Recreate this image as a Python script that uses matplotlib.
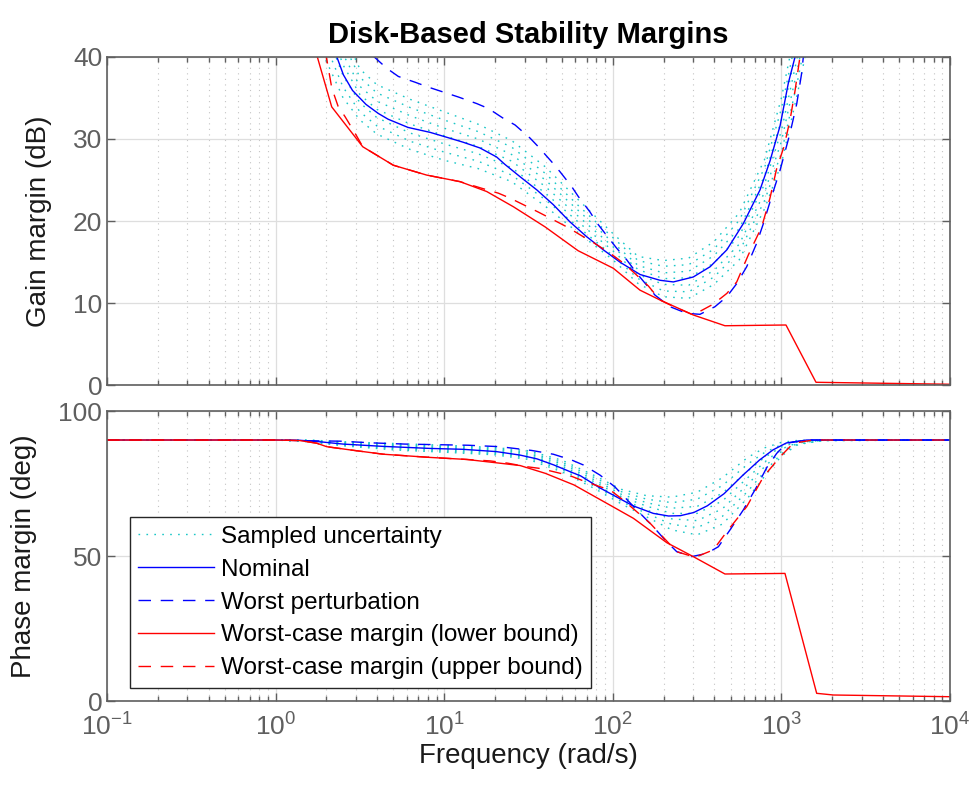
import numpy as np
import matplotlib.pyplot as plt

plt.rcParams['font.family'] = ['Liberation Sans', 'DejaVu Sans']
plt.rcParams['mathtext.fontset'] = 'custom'
plt.rcParams['mathtext.rm'] = 'Liberation Sans'
plt.rcParams['mathtext.it'] = 'Liberation Sans:italic'
plt.rcParams['mathtext.bf'] = 'Liberation Sans:bold'

# ---------------------------------------------------------------------------
# data (frequencies as log10(rad/s))
# ---------------------------------------------------------------------------
# gain margin (dB)
GM_NOM_LW = [0.30, 0.361, 0.402, 0.456, 0.536, 0.609, 0.667, 0.785, 0.916, 1.015, 1.112, 1.212,
             1.311, 1.36, 1.45, 1.549, 1.647, 1.746, 1.845, 1.944, 2.043, 2.162, 2.280, 2.359,
             2.477, 2.577, 2.676, 2.774, 2.873, 2.932, 2.992, 3.041, 3.081, 3.10]
GM_NOM = [45, 40.1, 37.8, 35.9, 34.2, 33.1, 32.4, 31.4, 30.8, 30.2, 29.6, 28.9,
          27.8, 26.9, 25.4, 23.8, 22.0, 19.9, 18.1, 16.5, 15.0, 13.5, 12.8, 12.6,
          13.2, 14.45, 16.5, 19.7, 23.8, 27.3, 31.6, 36.8, 40.0, 42.0]

GM_WP_LW = [0.52, 0.578, 0.659, 0.728, 0.827, 0.906, 0.995, 1.084, 1.193, 1.262, 1.351, 1.420,
            1.509, 1.558, 1.638, 1.687, 1.756, 1.795, 1.865, 1.905, 1.973, 2.023, 2.082, 2.142,
            2.250, 2.339, 2.438, 2.517, 2.606, 2.676, 2.735, 2.794, 2.853, 2.893, 2.942, 2.992,
            3.051, 3.091, 3.120, 3.130, 3.15]
GM_WP = [42.5, 40.1, 38.6, 37.6, 36.9, 36.3, 35.7, 35.1, 34.3, 33.7, 32.5, 31.7,
         30.1, 29.05, 27.2, 26.0, 24.2, 23.0, 21.1, 19.8, 18.0, 16.7, 15.3, 13.65,
         11.0, 9.59, 8.78, 8.66, 9.59, 10.8, 12.4, 14.45, 17.3, 19.7, 23.0, 26.2,
         30.7, 34.3, 38.0, 40.0, 42.5]

GM_LB_LW = [0.15, 0.2456, 0.3327, 0.5166, 0.698, 0.896, 1.094, 1.252, 1.410, 1.598, 1.794,
            2.003, 2.161, 2.28, 2.477, 2.665, 3.027, 3.205, 4.0]
GM_LB = [47, 40.1, 33.9, 29.05, 26.8, 25.6, 24.8, 23.6, 21.75, 19.3, 16.4,
         14.26, 11.6, 10.4, 8.58, 7.27, 7.36, 0.39, 0.15]

GM_UB_LW = [0.25, 0.299, 0.333, 0.370, 0.412, 0.471, 0.517, 0.698, 0.896, 1.094, 1.222, 1.321,
            1.390, 1.489, 1.558, 1.657, 1.727, 1.825, 1.884, 1.983, 2.062, 2.122, 2.211, 2.280,
            2.340, 2.477, 2.596, 2.676, 2.735, 2.804, 2.883, 2.932, 2.972, 3.015, 3.051, 3.081,
            3.110, 3.14]
GM_UB = [46, 40.2, 36.2, 34.0, 32.7, 30.7, 29.05, 26.8, 25.6, 24.8, 24.0, 23.4,
         22.8, 21.8, 21.1, 20.05, 19.3, 18.1, 17.4, 16.1, 14.9, 13.8, 12.1, 10.4,
         9.8, 8.58, 9.9, 11.2, 12.6, 15.9, 19.3, 22.8, 26.4, 29.05, 32.3, 35.9,
         40.0, 43.5]

GM_SMP_LW = [0.2, 0.3, 0.4, 0.5, 0.6, 0.8, 1.0, 1.2, 1.4, 1.6, 1.8, 2.0, 2.15, 2.3, 2.45,
             2.6, 2.75, 2.9, 3.0, 3.1, 3.2]
GM_SAMPLES = [
    [45.0, 39.5, 35.0, 32.3, 30.6, 28.7, 27.4, 26.4, 24.8, 21.8, 18.5, 15.3, 12.4, 10.8, 10.6, 12.3, 15.3, 21.5, 27.0, 36.0, 46.0],
    [46.7, 41.3, 36.3, 33.3, 31.6, 29.7, 28.4, 27.3, 25.6, 22.6, 19.2, 15.8, 13.0, 11.5, 11.4, 13.2, 16.3, 22.5, 28.3, 37.5, 47.7],
    [48.3, 43.0, 37.7, 34.4, 32.6, 30.7, 29.4, 28.2, 26.5, 23.4, 19.8, 16.4, 13.5, 12.3, 12.2, 14.0, 17.2, 23.5, 29.7, 39.0, 49.3],
    [50.0, 44.8, 39.0, 35.4, 33.6, 31.8, 30.4, 29.1, 27.3, 24.2, 20.5, 16.9, 14.1, 13.0, 13.1, 14.9, 18.2, 24.5, 31.0, 40.5, 51.0],
    [51.7, 46.5, 40.3, 36.4, 34.6, 32.8, 31.3, 30.0, 28.1, 25.0, 21.2, 17.4, 14.6, 13.7, 13.9, 15.8, 19.1, 25.5, 32.3, 42.0, 52.7],
    [53.3, 48.3, 41.7, 37.5, 35.6, 33.8, 32.3, 30.9, 29.0, 25.8, 21.8, 18.0, 15.2, 14.5, 14.7, 16.6, 20.1, 26.5, 33.7, 43.5, 54.3],
    [55.0, 50.0, 43.0, 38.5, 36.6, 34.8, 33.3, 31.8, 29.8, 26.6, 22.5, 18.5, 15.7, 15.2, 15.5, 17.5, 21.0, 27.5, 35.0, 45.0, 56.0],
]

# phase margin (deg)
PM_NOM_LW = [-1, 0.0, 0.145, 0.262, 0.40, 0.64, 0.916, 1.11, 1.31, 1.45, 1.55, 1.65, 1.75, 1.81,
             1.92, 2.05, 2.12, 2.24, 2.33, 2.40, 2.48, 2.56, 2.66, 2.77, 2.87, 2.95, 3.03, 3.15, 4.0]
PM_NOM = [90, 90, 89.9, 89.4, 88.6, 87.8, 87.1, 86.8, 86.0, 84.8, 83.5, 81.4, 79.0, 77.6,
          73.6, 69.5, 67.3, 64.7, 63.8, 63.9, 65.0, 67.3, 71.5, 77.8, 83.1, 86.6, 89.0, 90, 90]

PM_WP_LW = [-1, 0.0, 0.145, 0.382, 0.578, 0.767, 0.951, 1.141, 1.331, 1.519, 1.647, 1.756, 1.825,
            1.924, 2.013, 2.142, 2.240, 2.31, 2.379, 2.468, 2.557, 2.626, 2.695, 2.774, 2.843,
            2.913, 2.972, 3.031, 3.15, 4.0]
PM_WP = [90, 90, 89.8, 89.6, 89.0, 88.6, 88.4, 88.2, 87.7, 86.4, 85.1, 83.1, 81.4,
         77.9, 73.8, 65.9, 60.1, 55.5, 51.5, 49.8, 50.9, 53.2, 59.0, 65.9, 72.8,
         80.5, 85.4, 88.9, 90, 90]

PM_LB_LW = [-1, 0.0, 0.145, 0.244, 0.303, 0.441, 0.639, 0.916, 1.133, 1.331, 1.45, 1.6, 1.77,
            2.0, 2.122, 2.32, 2.48, 2.665, 3.021, 3.209, 3.308, 4.0]
PM_LB = [90, 90, 89.8, 88.9, 87.7, 86.6, 85.1, 84.0, 83.3, 82.0, 81.2, 78.5, 74.5,
         67.0, 63.0, 54.6, 49.7, 43.8, 44.0, 2.65, 2.07, 1.48]

PM_UB_LW = [-1, 0.0, 0.145, 0.244, 0.303, 0.441, 0.639, 0.916, 1.133, 1.272, 1.378, 1.489, 1.568,
            1.647, 1.746, 1.825, 1.924, 1.983, 2.062, 2.221, 2.379, 2.488, 2.596, 2.676, 2.794,
            2.893, 2.992, 3.071, 3.189, 4.0]
PM_UB = [90, 90, 89.8, 88.9, 87.7, 86.6, 85.1, 84.0, 83.3, 82.8, 82.0, 80.8, 80.2,
         79.1, 77.7, 75.9, 73.9, 72.8, 69.3, 61.3, 51.5, 49.55, 52.1, 58.4, 67.0,
         77.3, 84.2, 88.9, 90, 90]

PM_SMP_LW = [-1, 0.0, 0.2, 0.4, 0.7, 1.0, 1.3, 1.5, 1.7, 1.9, 2.05, 2.2, 2.35, 2.5, 2.65,
             2.8, 2.9, 3.0, 3.1, 3.25, 4.0]
PM_SAMPLES = [
    [90, 90, 89.4, 88.0, 86.6, 85.8, 84.9, 83.3, 79.0, 73.0, 68.0, 63.5, 59.0, 57.3, 61.0, 70.0, 77.5, 84.5, 88.5, 89.8, 90],
    [90, 90, 89.5, 88.2, 87.0, 86.2, 85.3, 83.8, 79.7, 73.8, 68.8, 64.7, 60.9, 59.8, 63.7, 72.3, 79.1, 85.3, 88.7, 89.8, 90],
    [90, 90, 89.6, 88.5, 87.3, 86.6, 85.7, 84.3, 80.3, 74.5, 69.7, 65.9, 62.8, 62.2, 66.3, 74.7, 80.8, 86.1, 89.0, 89.9, 90],
    [90, 90, 89.7, 88.7, 87.7, 87.0, 86.2, 84.8, 81.0, 75.3, 70.5, 67.2, 64.7, 64.7, 69.0, 77.0, 82.4, 86.9, 89.2, 89.9, 90],
    [90, 90, 89.8, 88.9, 88.1, 87.4, 86.6, 85.3, 81.7, 76.0, 71.3, 68.4, 66.5, 67.1, 71.7, 79.3, 84.0, 87.6, 89.4, 89.9, 90],
    [90, 90, 89.9, 89.2, 88.4, 87.8, 87.0, 85.8, 82.3, 76.8, 72.2, 69.6, 68.4, 69.6, 74.3, 81.7, 85.7, 88.4, 89.7, 90, 90],
    [90, 90, 90.0, 89.4, 88.8, 88.2, 87.4, 86.3, 83.0, 77.5, 73.0, 70.8, 70.3, 72.0, 77.0, 84.0, 87.3, 89.2, 89.9, 90, 90],
]

LEGEND_LABELS = ["Sampled uncertainty", "Nominal", "Worst perturbation",
                 "Worst-case margin (lower bound)", "Worst-case margin (upper bound)"]
XTICK_EXP = [-1, 0, 1, 2, 3, 4]

# ---------------------------------------------------------------------------
# styles
# ---------------------------------------------------------------------------
CYAN = (0.1, 0.78, 0.78)
BLUE = (0.0, 0.0, 1.0)
RED = (1.0, 0.0, 0.0)
GREY = '#5f5f5f'
LW = 1.0
DASH = (0, (9, 7))
DOT = (0, (1.2, 4.5))


def w(lw):
    return 10.0 ** np.asarray(lw, dtype=float)


def style_axes(ax, yticks, ylim, ylabel):
    ax.set_xscale('log')
    ax.set_xlim(1e-1, 1e4)
    ax.set_ylim(*ylim)
    ax.set_yticks(yticks)
    ax.set_xticks([10.0 ** e for e in XTICK_EXP])
    ax.set_xticklabels([r'$10^{%d}$' % e for e in XTICK_EXP])
    ax.grid(True, which='major', color='#dedede', linewidth=0.9, linestyle='-')
    ax.grid(True, which='minor', axis='x', color='#c4c4c4', linewidth=0.8,
            linestyle=(0, (1, 4)))
    ax.set_axisbelow(True)
    ax.tick_params(which='both', direction='in', top=True, right=True,
                   colors=GREY, labelsize=19, width=1.0)
    ax.tick_params(which='major', length=6)
    ax.tick_params(which='minor', length=3.5)
    ax.tick_params(axis='x', which='major', pad=9)
    for sp in ax.spines.values():
        sp.set_color(GREY)
        sp.set_linewidth(1.2)
    ax.set_ylabel(ylabel, fontsize=20, color='#1a1a1a', labelpad=15)


def draw(ax, smp_lw, samples, nom_lw, nom, wp_lw, wp, lb_lw, lb, ub_lw, ub):
    handles = []
    for i, s in enumerate(samples):
        h, = ax.plot(w(smp_lw), s, color=CYAN, lw=LW, linestyle=DOT)
        if i == 0:
            handles.append(h)
    h, = ax.plot(w(nom_lw), nom, color=BLUE, lw=LW)
    handles.append(h)
    h, = ax.plot(w(wp_lw), wp, color=BLUE, lw=LW, linestyle=DASH)
    handles.append(h)
    h, = ax.plot(w(lb_lw), lb, color=RED, lw=LW)
    handles.append(h)
    h, = ax.plot(w(ub_lw), ub, color=RED, lw=LW, linestyle=DASH)
    handles.append(h)
    return handles


fig = plt.figure(figsize=(9.72, 7.88), dpi=100)
ax1 = fig.add_axes([0.1101, 0.5108, 0.8673, 0.4172])
ax2 = fig.add_axes([0.1101, 0.1104, 0.8673, 0.3680])

draw(ax1, GM_SMP_LW, GM_SAMPLES, GM_NOM_LW, GM_NOM, GM_WP_LW, GM_WP,
     GM_LB_LW, GM_LB, GM_UB_LW, GM_UB)
handles = draw(ax2, PM_SMP_LW, PM_SAMPLES, PM_NOM_LW, PM_NOM, PM_WP_LW, PM_WP,
               PM_LB_LW, PM_LB, PM_UB_LW, PM_UB)

style_axes(ax1, [0, 10, 20, 30, 40], (0, 40), 'Gain margin (dB)')
style_axes(ax2, [0, 50, 100], (0, 100), 'Phase margin (deg)')
ax1.tick_params(labelbottom=False)
ax2.set_xlabel('Frequency (rad/s)', fontsize=20, color='#1a1a1a', labelpad=2)
ax1.set_title('Disk-Based Stability Margins', fontsize=21, fontweight='bold', pad=10)

leg = ax2.legend(handles, LEGEND_LABELS, loc='lower left', bbox_to_anchor=(0.027, 0.045),
                 borderaxespad=0, fontsize=17.5, frameon=True, fancybox=False,
                 edgecolor='#262626', framealpha=1, handlelength=3.1, handletextpad=0.3,
                 labelspacing=0.45, borderpad=0.35)
leg.get_frame().set_linewidth(1.0)

fig.savefig('out.png', dpi=100)
